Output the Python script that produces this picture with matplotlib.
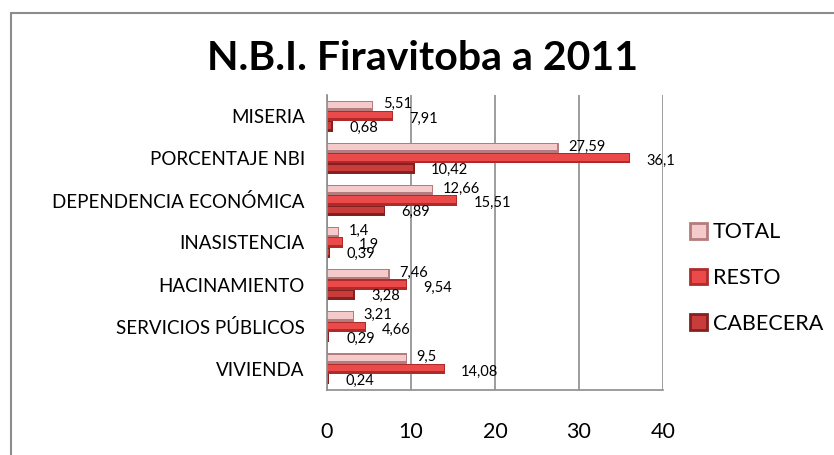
import matplotlib.pyplot as plt
from matplotlib.patches import Rectangle
import numpy as np

plt.rcParams['font.family'] = ['Lato', 'DejaVu Sans']

categories = ["MISERIA", "PORCENTAJE NBI", "DEPENDENCIA ECONÓMICA", "INASISTENCIA",
              "HACINAMIENTO", "SERVICIOS PÚBLICOS", "VIVIENDA"]
total = [5.51, 27.59, 12.66, 1.4, 7.46, 3.21, 9.5]
resto = [7.91, 36.1, 15.51, 1.9, 9.54, 4.66, 14.08]
cabecera = [0.68, 10.42, 6.89, 0.39, 3.28, 0.29, 0.24]
xticks = [0, 10, 20, 30, 40]

# name, values, dark (bevel) colour, light colour, label offset x, label offset y
series = [
    ("TOTAL", total, "#b47c7c", "#f5caca", 7, 1),
    ("RESTO", resto, "#b02a2a", "#ea4a4a", 11.5, -2),
    ("CABECERA", cabecera, "#852020", "#c83c3c", 12, -1),
]

fig = plt.figure(figsize=(8.34, 4.55), dpi=100)
# chart area border
fig.patches.append(Rectangle((10.5 / 834, -0.05), 1.0, 1 - 13 / 455 + 0.05,
                             transform=fig.transFigure, fill=False,
                             edgecolor="#8c8c8c", linewidth=1.5))

ax = fig.add_axes([327 / 834, 1 - 390 / 455, 336 / 834, 295 / 455])

y = np.arange(len(categories))
h = 0.245
handles = []
for i, (name, vals, dark, light, dx, dy) in enumerate(series):
    pos = y + (i - 1) * h
    ax.barh(pos, vals, height=h, color=dark, linewidth=0)
    # lighter upper band to mimic the bevelled bars
    ax.barh(pos - h * 0.08, np.array(vals) - 0.15, height=h * 0.62, color=light, linewidth=0)
    for p, v in zip(pos, vals):
        ax.annotate(f"{v:g}".replace(".", ","), (v, p), xytext=(dx, dy),
                    textcoords="offset points", va="center", ha="left", fontsize=10.5)
    handles.append(Rectangle((0, 0), 1, 1, facecolor=light, edgecolor=dark,
                             linewidth=2, label=name))

ax.set_ylim(len(categories) - 0.5, -0.5)
ax.set_xlim(0, 40)
ax.set_xticks(xticks)
ax.set_yticks(y)
ax.set_yticklabels(categories, fontsize=13.5)
ax.tick_params(axis="x", length=0, pad=23, labelsize=15.5)
ax.tick_params(axis="y", length=0, pad=16)
ax.grid(axis="x", color="#8c8c8c", linewidth=1.2)
ax.set_axisbelow(True)
for s in ["top", "right"]:
    ax.spines[s].set_visible(False)
for s in ["left", "bottom"]:
    ax.spines[s].set_color("#8c8c8c")
    ax.spines[s].set_linewidth(1.2)

fig.text(423 / 834, 1 - 58 / 455, "N.B.I. Firavitoba a 2011", ha="center", va="center",
         fontsize=29.5, fontweight="bold")

fig.legend(handles=handles, loc="center left", bbox_to_anchor=(671 / 834, 1 - 278 / 455),
           frameon=False, fontsize=15.5, handlelength=0.75, handleheight=0.75,
           labelspacing=1.2, handletextpad=0.3)

fig.savefig("out.png", dpi=100)
